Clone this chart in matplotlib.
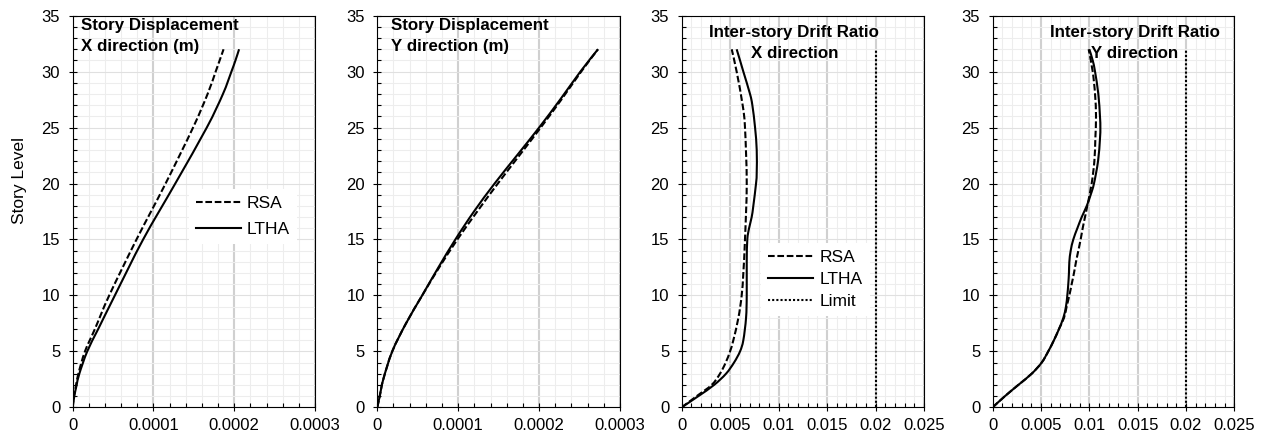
import numpy as np
import matplotlib
matplotlib.use("Agg")
import matplotlib.pyplot as plt
from matplotlib.path import Path
from matplotlib.patches import PathPatch
from matplotlib.lines import Line2D
from matplotlib.ticker import MultipleLocator

plt.rcParams['font.family'] = ['Liberation Sans', 'DejaVu Sans']

# ---------------- data ----------------
# Panel 1: story displacement X (m)
dx_rsa_levels = [0, 1, 2, 3, 5, 7, 10, 15, 20, 25, 28, 30, 32]
dx_rsa = np.array([0, 0.015, 0.042, 0.07, 0.152, 0.275, 0.452, 0.79, 1.15, 1.49, 1.67, 1.77, 1.868]) * 1e-4
dx_ltha_levels = [0, 1, 2, 3, 5, 7, 10, 15, 20, 25, 28, 30, 31, 32]
dx_ltha = np.array([0, 0.02, 0.049, 0.082, 0.18, 0.316, 0.522, 0.872, 1.27, 1.66, 1.86, 1.965, 2.015, 2.06]) * 1e-4

# Panel 2: story displacement Y (m)
dy_levels = [0, 1, 2.5, 5, 7.5, 10, 12.5, 15, 17.5, 20, 22.5, 25, 27.5, 30, 32]
dy_rsa = np.array([0, 0.03, 0.074, 0.185, 0.355, 0.555, 0.765, 0.99, 1.235, 1.49, 1.755, 2.02, 2.275, 2.52, 2.728]) * 1e-4
dy_ltha = np.array([0, 0.03, 0.074, 0.185, 0.355, 0.555, 0.755, 0.965, 1.195, 1.45, 1.725, 2.0, 2.26, 2.51, 2.728]) * 1e-4

# Panel 3: inter-story drift ratio X
drx_rsa_levels = [0, 1, 2, 3, 4, 5, 6, 8, 10, 12, 15, 20, 25, 27, 30, 32]
drx_rsa = np.array([0, 1.55, 3.09, 3.95, 4.54, 4.99, 5.33, 5.85, 6.19, 6.36, 6.53, 6.71, 6.53, 6.29, 5.67, 5.16]) * 1e-3
drx_ltha_levels = [0, 1, 2, 3, 4, 5, 6, 8, 10, 13, 15, 16, 17, 18, 20, 21, 23, 25, 27, 28, 30, 31, 32]
drx_ltha = np.array([0, 1.72, 3.34, 4.57, 5.4, 6.02, 6.36, 6.64, 6.71, 6.71, 6.77, 6.95, 7.22, 7.39, 7.67, 7.74,
                     7.74, 7.57, 7.29, 7.05, 6.36, 6.02, 5.67]) * 1e-3

# Panel 4: inter-story drift ratio Y
dry_rsa_levels = [0, 1, 2, 3, 4, 5, 6, 7, 8, 9, 10, 11, 12, 13, 14, 15, 16, 17, 18, 20, 22, 24, 26, 28, 30, 32]
dry_rsa = np.array([0, 1.27, 2.65, 4.03, 5.07, 5.75, 6.34, 6.86, 7.38, 7.65, 7.93, 8.17, 8.41, 8.62, 8.86, 9.1,
                    9.31, 9.55, 9.79, 10.24, 10.52, 10.62, 10.69, 10.59, 10.35, 9.93]) * 1e-3
dry_ltha_levels = [0, 1, 2, 3, 4, 5, 6, 7, 8, 9, 10, 11, 12, 13, 14, 15, 16, 17, 18, 19, 20, 22, 24, 25, 26, 28,
                   30, 31, 32]
dry_ltha = np.array([0, 1.27, 2.65, 4.03, 5.07, 5.75, 6.34, 6.86, 7.31, 7.58, 7.72, 7.82, 7.89, 7.93, 8.07, 8.34,
                     8.76, 9.21, 9.73, 10.14, 10.48, 10.9, 11.1, 11.14, 11.10, 10.93, 10.59, 10.35, 10.0]) * 1e-3

# Drift limit
limit_x = [0.02, 0.02]
limit_levels = [0, 32]

titles = ["Story Displacement\nX direction (m)",
          "Story Displacement\nY direction (m)",
          "Inter-story Drift Ratio\nX direction",
          "Inter-story Drift Ratio\nY direction"]
series_labels = ["RSA", "LTHA", "Limit"]
ylabel = "Story Level"

# ---------------- styling ----------------
FS_TICK = 12
FS_TITLE = 12.2
FS_LEG = 12.5
DASH = (0, (3.2, 1.3))
DOT = (0, (1, 1))
LW = 1.5
TITLE_LS = 1.5

fig = plt.figure(figsize=(12.68, 4.36), dpi=100)

W = 1268.0
H = 436.0
top_px, bot_px = 15.7, 407.3
lefts = [72.7, 377.3, 681.7, 992.7]
widths = [242.3, 242.7, 242.3, 241.6]


def smooth_path(x, y):
    pts = np.column_stack([np.asarray(x, float), np.asarray(y, float)])
    verts = [pts[0]]
    codes = [Path.MOVETO]
    n = len(pts)
    for i in range(n - 1):
        p0 = pts[i - 1] if i > 0 else pts[i]
        p1 = pts[i]
        p2 = pts[i + 1]
        p3 = pts[i + 2] if i + 2 < n else pts[i + 1]
        c1 = p1 + (p2 - p0) / 6.0
        c2 = p2 - (p3 - p1) / 6.0
        verts += [c1, c2, p2]
        codes += [Path.CURVE4] * 3
    return Path(verts, codes)


def draw_curve(ax, x, y, ls):
    patch = PathPatch(smooth_path(x, y), fill=False, edgecolor='black', lw=LW,
                      linestyle=ls, capstyle='butt', joinstyle='round', zorder=3)
    ax.add_patch(patch)


axes = []
for i in range(4):
    ax = fig.add_axes([lefts[i] / W, (H - bot_px) / H, widths[i] / W, (bot_px - top_px) / H])
    axes.append(ax)
    ax.set_ylim(0, 35)
    ax.yaxis.set_major_locator(MultipleLocator(5))
    ax.yaxis.set_minor_locator(MultipleLocator(1))
    if i < 2:
        ax.set_xlim(0, 0.0003)
        ax.xaxis.set_major_locator(MultipleLocator(0.0001))
        ax.xaxis.set_minor_locator(MultipleLocator(0.00002))
        ax.xaxis.set_major_formatter(plt.FuncFormatter(lambda v, p: "0" if abs(v) < 1e-12 else f"{v:.4f}"))
    else:
        ax.set_xlim(0, 0.025)
        ax.xaxis.set_major_locator(MultipleLocator(0.005))
        ax.xaxis.set_minor_locator(MultipleLocator(0.001))
        ax.xaxis.set_major_formatter(plt.FuncFormatter(lambda v, p: "0" if abs(v) < 1e-12 else f"{v:g}"))
    ax.set_axisbelow(True)
    ax.grid(which='minor', color='#ededed', lw=0.8)
    ax.grid(which='major', axis='y', color='#e0e0e0', lw=0.8)
    ax.grid(which='major', axis='x', color='#d0d0d0', lw=1.5)
    ax.tick_params(which='major', direction='inout', length=6, width=0.8, labelsize=FS_TICK, pad=5)
    ax.tick_params(which='minor', direction='in', length=3, width=0.8)
    ax.tick_params(axis='y', which='major', pad=6)
    for s in ax.spines.values():
        s.set_color('black')
        s.set_linewidth(0.8)

# panel 1
ax = axes[0]
draw_curve(ax, dx_rsa, dx_rsa_levels, DASH)
draw_curve(ax, dx_ltha, dx_ltha_levels, '-')
ax.text(0.035, 0.993, titles[0], transform=ax.transAxes, ha='left', va='top',
        fontsize=FS_TITLE, fontweight='bold', linespacing=TITLE_LS, zorder=5)
ax.set_ylabel(ylabel, fontsize=FS_LEG)
ax.yaxis.set_label_coords(-0.22, 0.578)
ax.yaxis.label.set_va('center')
h1 = [Line2D([], [], color='black', lw=LW, linestyle=DASH),
      Line2D([], [], color='black', lw=LW, linestyle='-')]
leg = ax.legend(h1, series_labels[:2], loc='upper left', bbox_to_anchor=(0.479, 0.558),
                borderaxespad=0, borderpad=0.4, frameon=True, fancybox=False, framealpha=1, edgecolor='none',
                facecolor='white', fontsize=FS_LEG, handlelength=2.6, handletextpad=0.35, labelspacing=0.64)
leg.set_zorder(4)

# panel 2
ax = axes[1]
draw_curve(ax, dy_rsa, dy_levels, DASH)
draw_curve(ax, dy_ltha, dy_levels, '-')
ax.text(0.055, 0.993, titles[1], transform=ax.transAxes, ha='left', va='top',
        fontsize=FS_TITLE, fontweight='bold', linespacing=TITLE_LS, zorder=5)

# panel 3
ax = axes[2]
draw_curve(ax, drx_rsa, drx_rsa_levels, DASH)
draw_curve(ax, drx_ltha, drx_ltha_levels, '-')
ax.plot(limit_x, limit_levels, color='black', lw=LW, linestyle=DOT, zorder=3)
ax.text(0.465, 0.975, titles[2], transform=ax.transAxes, ha='center', va='top',
        multialignment='center', fontsize=FS_TITLE, fontweight='bold', linespacing=1.42, zorder=5)
h3 = [Line2D([], [], color='black', lw=LW, linestyle=DASH),
      Line2D([], [], color='black', lw=LW, linestyle='-'),
      Line2D([], [], color='black', lw=LW, linestyle=DOT)]
leg = ax.legend(h3, series_labels, loc='upper left', bbox_to_anchor=(0.3285, 0.42),
                borderaxespad=0, borderpad=0.4, frameon=True, fancybox=False, framealpha=1, edgecolor='none',
                facecolor='white', fontsize=FS_LEG, handlelength=2.6, handletextpad=0.35, labelspacing=0.41)
leg.set_zorder(4)

# panel 4
ax = axes[3]
draw_curve(ax, dry_rsa, dry_rsa_levels, DASH)
draw_curve(ax, dry_ltha, dry_ltha_levels, '-')
ax.plot(limit_x, limit_levels, color='black', lw=LW, linestyle=DOT, zorder=3)
ax.text(0.589, 0.975, titles[3], transform=ax.transAxes, ha='center', va='top',
        multialignment='center', fontsize=FS_TITLE, fontweight='bold', linespacing=1.42, zorder=5)

fig.savefig("out.png", dpi=100)
